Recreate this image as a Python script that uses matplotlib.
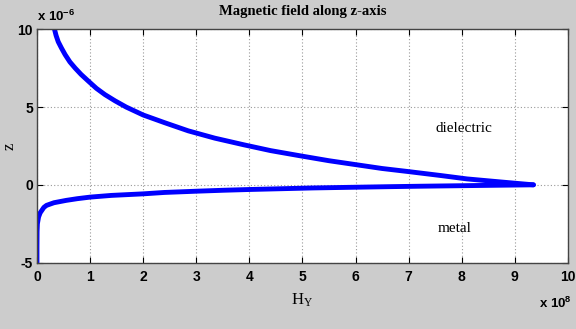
import matplotlib
matplotlib.use('Agg')
import matplotlib.pyplot as plt

# values (H in 1e8 units, z in 1e-6 units)
z_diel = [10, 9.6, 9.2, 8.8, 8.37, 7.9, 7.5, 7.1, 6.66, 6.2, 5.8, 5.4, 5.0, 4.49, 4.0, 3.47, 3.0, 2.57, 2.2, 1.87, 1.55, 1.30, 1.05, 0.85, 0.6, 0.38, 0.18, 0]
h_diel = [0.33, 0.36, 0.40, 0.46, 0.53, 0.62, 0.72, 0.83, 0.97, 1.12, 1.28, 1.47, 1.68, 2.0, 2.4, 2.85, 3.35, 3.9, 4.4, 4.95, 5.5, 6.0, 6.5, 7.0, 7.6, 8.1, 8.75, 9.35]

z_metal = [-5, -4.0, -3.0, -2.5, -2.07, -1.8, -1.6, -1.45, -1.32, -1.15, -1.0, -0.89, -0.79, -0.68, -0.58, -0.49, -0.41, -0.35, -0.30, -0.25, -0.2, -0.16, -0.12, -0.09, -0.06, -0.03, 0]
h_metal = [0.0, 0.0, 0.002, 0.008, 0.03, 0.06, 0.1, 0.13, 0.18, 0.32, 0.55, 0.76, 1.0, 1.4, 2.0, 2.4, 3.0, 3.5, 4.0, 4.6, 5.2, 5.9, 6.6, 7.2, 7.9, 8.6, 9.35]

x_ticks = [0, 1, 2, 3, 4, 5, 6, 7, 8, 9, 10]
y_ticks = [-5, 0, 5, 10]

serif = 'Liberation Serif'
sans = 'Liberation Sans'

fig = plt.figure(figsize=(5.76, 3.29), dpi=100, facecolor='#cccccc')
ax = fig.add_axes([0.0642, 0.2018, 0.9218, 0.7092])

ax.plot(h_diel, z_diel, color='#0000ff', lw=3.5, solid_capstyle='round', solid_joinstyle='round')
ax.plot(h_metal, z_metal, color='#0000ff', lw=3.5, solid_capstyle='round', solid_joinstyle='round')

ax.set_xlim(0, 10)
ax.set_ylim(-5, 10)
ax.set_xticks(x_ticks)
ax.set_yticks(y_ticks)
ax.set_xticklabels([str(t) for t in x_ticks], family=sans, fontweight='bold', fontsize=10)
ax.set_yticklabels([str(t) for t in y_ticks], family=sans, fontweight='bold', fontsize=10)
ax.tick_params(direction='in', top=True, right=True, length=4, width=0.8, pad=5)
ax.tick_params(axis='y', pad=3)
ax.grid(True, color='#999999', linestyle=(0, (1, 2)), linewidth=0.8)
for s in ax.spines.values():
    s.set_color('#444444')
    s.set_linewidth(1)

ax.set_title('Magnetic field along z-axis', family=serif, fontweight='bold', fontsize=10.5, pad=10)
ax.set_xlabel(r'$\mathregular{H_Y}$', family=serif, fontsize=12, labelpad=6)
ax.set_ylabel('z', family=serif, fontsize=12)
ax.yaxis.set_label_coords(-0.036, 0.5)

ax.text(7.5, 3.6, 'dielectric', family=serif, fontsize=11, va='center')
ax.text(7.55, -2.8, 'metal', family=serif, fontsize=11, va='center')

fig.text(0.064, 0.935, r'x 10$^{\mathregular{-6}}$', family=sans, fontweight='bold', fontsize=9.5)
fig.text(0.935, 0.065, r'x 10$^{\mathregular{8}}$', family=sans, fontweight='bold', fontsize=9.5)

fig.savefig('out.png', dpi=100, facecolor=fig.get_facecolor())
